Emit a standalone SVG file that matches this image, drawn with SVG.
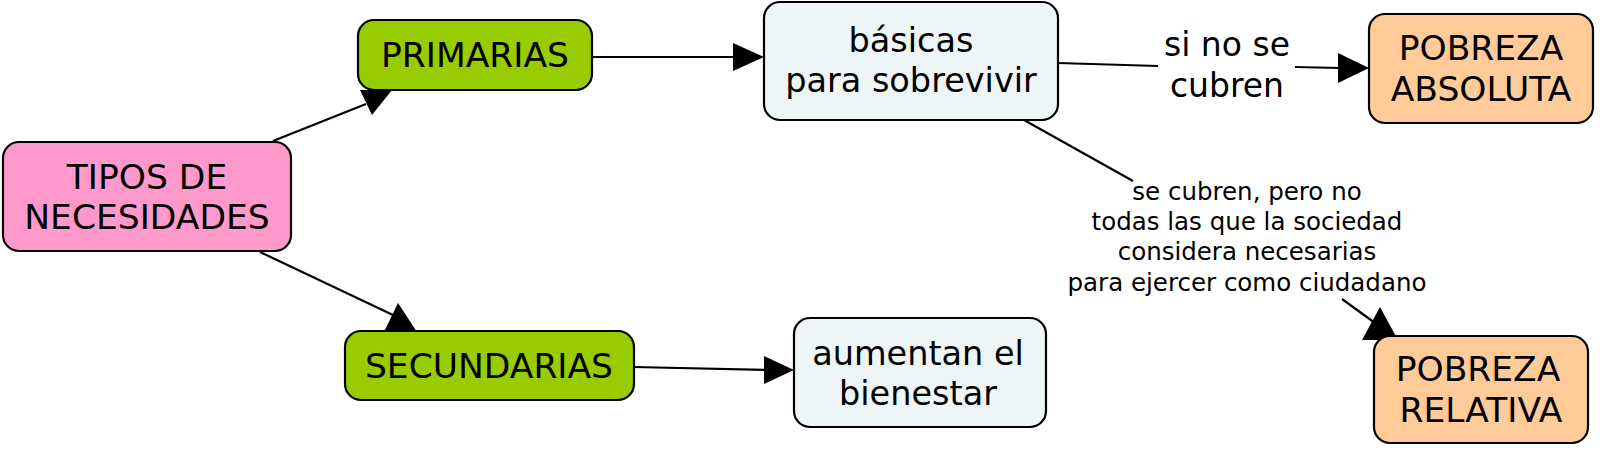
<svg xmlns="http://www.w3.org/2000/svg" width="1600" height="451" viewBox="0 0 1600 451">
<style>
.n{stroke:#000;stroke-width:2.2}
.t{font-family:'DejaVu Sans',Verdana,sans-serif;font-size:34.5px;fill:#000;text-anchor:middle}
.s{font-size:33.5px}
.l{font-family:'DejaVu Sans',Verdana,sans-serif;fill:#000;text-anchor:middle}
.c line{stroke:#000;stroke-width:2.2}
.c polygon{fill:#000}
</style>
<rect width="1600" height="451" fill="#fff"/>
<g id="connectors" class="c">
<line x1="273" y1="141" x2="366" y2="104"/>
<polygon points="360,90 392,90 372,115"/>
<line x1="260" y1="252" x2="393" y2="315"/>
<polygon points="398,303 384,332 417,332"/>
<line x1="592" y1="57" x2="740" y2="57"/>
<polygon points="733,43 733,71 764,57"/>
<line x1="634" y1="367" x2="770" y2="370"/>
<polygon points="764,356 764,384 794,370"/>
<line x1="1058" y1="63" x2="1158" y2="66"/>
<line x1="1295" y1="67" x2="1340" y2="68"/>
<polygon points="1338,53 1338,83 1369,68"/>
<line x1="1024" y1="120" x2="1133" y2="181"/>
<line x1="1342" y1="299" x2="1375" y2="323"/>
<polygon points="1380,307 1362,340 1398,340"/>
<g id="label-si-no-se-cubren">
<text class="l" font-size="33" x="1227" y="56">si no se</text>
<text class="l" font-size="33" x="1227" y="97">cubren</text>
</g>
<g id="label-se-cubren-pero-no">
<text class="l" font-size="24.5" x="1247" y="200">se cubren, pero no</text>
<text class="l" font-size="24.5" x="1247" y="230">todas las que la sociedad</text>
<text class="l" font-size="24.5" x="1247" y="260">considera necesarias</text>
<text class="l" font-size="24.5" x="1247" y="291">para ejercer como ciudadano</text>
</g>
</g>
<g id="tipos">
<rect class="n" x="3" y="142" width="288" height="109" rx="16" fill="#FF99CC"/>
<text class="t" x="147" y="189">TIPOS DE</text>
<text class="t" x="147" y="229">NECESIDADES</text>
</g>
<g id="primarias">
<rect class="n" x="358" y="20" width="234" height="70" rx="16" fill="#99CC00"/>
<text class="t" x="475" y="67">PRIMARIAS</text>
</g>
<g id="secundarias">
<rect class="n" x="345" y="331" width="289" height="69" rx="16" fill="#99CC00"/>
<text class="t" x="489" y="378">SECUNDARIAS</text>
</g>
<g id="basicas">
<rect class="n" x="764" y="2" width="294" height="118" rx="16" fill="#EEF5F7"/>
<text class="t s" x="911" y="52">básicas</text>
<text class="t s" x="911" y="92">para sobrevivir</text>
</g>
<g id="aumentan">
<rect class="n" x="794" y="318" width="252" height="109" rx="16" fill="#EEF5F7"/>
<text class="t s" x="918" y="365">aumentan el</text>
<text class="t s" x="918" y="405">bienestar</text>
</g>
<g id="absoluta">
<rect class="n" x="1369" y="14" width="224" height="109" rx="16" fill="#FFCC99"/>
<text class="t" x="1481" y="60">POBREZA</text>
<text class="t" x="1481" y="101">ABSOLUTA</text>
</g>
<g id="relativa">
<rect class="n" x="1374" y="336" width="214" height="107" rx="16" fill="#FFCC99"/>
<text class="t" x="1478" y="381">POBREZA</text>
<text class="t" x="1481" y="422">RELATIVA</text>
</g>
</svg>
